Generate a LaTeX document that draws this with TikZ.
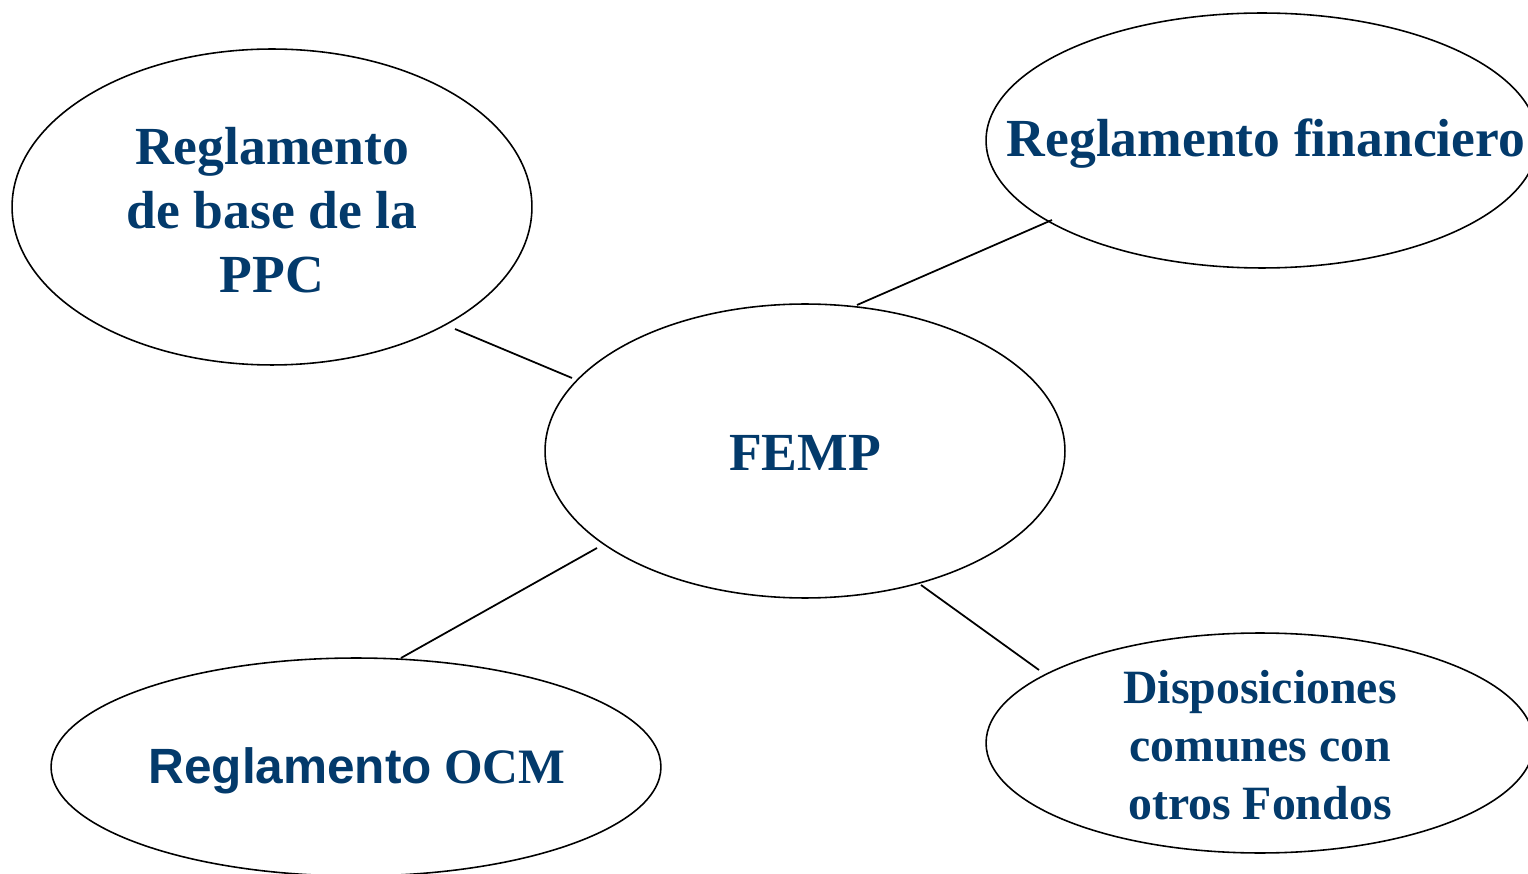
\documentclass[tikz,border=0pt]{standalone}
\usepackage{fontspec}
\setmainfont{Liberation Serif}
\newfontfamily\arialfam{Liberation Sans}
\usetikzlibrary{shapes.geometric}
\definecolor{navy}{HTML}{033A6B}
\tikzset{
  oval/.style={ellipse, draw=black, line width=0.9pt, inner sep=0pt, fill=none},
  lbl/.style={text=navy, font=\fontsize{30.5}{36.4}\selectfont\bfseries, align=center, inner sep=0pt},
  link/.style={draw=black, line width=1pt},
}
\begin{document}
\begin{tikzpicture}[x=0.02cm, y=-0.02cm]
\useasboundingbox (0,0) rectangle (1528,874);
\clip (0,0) rectangle (1528,874);
\fill[white] (0,0) rectangle (1528,874);
% ellipses
\node[oval, minimum width=10.4cm, minimum height=6.32cm] (ppc) at (272,207) {};
\node[oval, minimum width=11.04cm, minimum height=5.1cm] (fin) at (1262,140.5) {};
\node[oval, minimum width=10.4cm, minimum height=5.88cm] (femp) at (805,451) {};
\node[oval, minimum width=12.2cm, minimum height=4.36cm] (ocm) at (356,767) {};
\node[oval, minimum width=10.96cm, minimum height=4.4cm] (disp) at (1260,743) {};
% texts
\node[lbl] (ppct) at (272,210) {Reglamento\\de base de la\\PPC};
\node[lbl] (fint) at (1266,144) {Reglamento financiero};
\node[lbl] (fempt) at (805,453) {FEMP};
\node[lbl, font=\fontsize{28.2}{33}\selectfont\bfseries] (ocmt) at (357,771) {{\arialfam Reglamento} OCM};
\node[lbl, font=\fontsize{27.2}{33}\selectfont\bfseries] (dispt) at (1260,745) {Disposiciones\\comunes con\\otros Fondos};
% connector ends
\coordinate (a1) at (455,329); \coordinate (b1) at (572,378);
\coordinate (a2) at (857,305); \coordinate (b2) at (1052,220);
\coordinate (a3) at (597,548); \coordinate (b3) at (401,658);
\coordinate (a4) at (921,585); \coordinate (b4) at (1039,670);
\draw[link] (a1) -- (b1);
\draw[link] (a2) -- (b2);
\draw[link] (a3) -- (b3);
\draw[link] (a4) -- (b4);
\end{tikzpicture}
\end{document}
